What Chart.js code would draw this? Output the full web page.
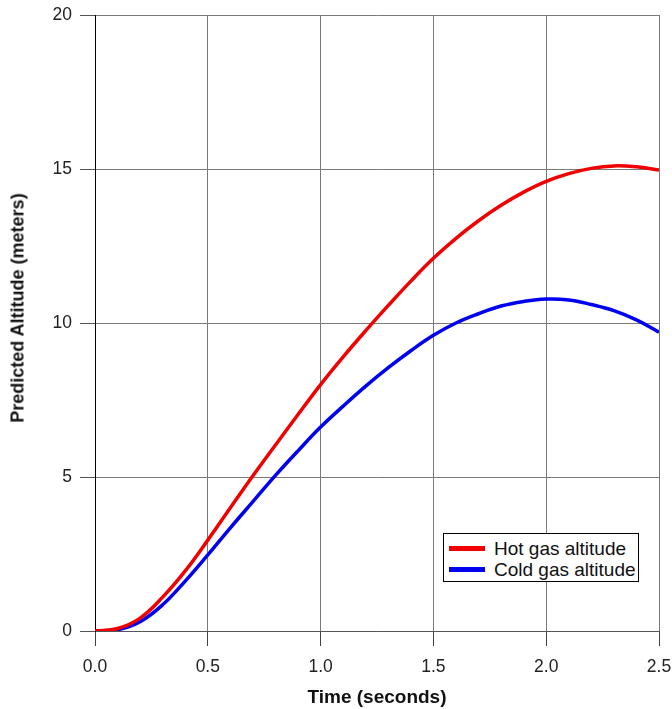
<!DOCTYPE html>
<html><head><meta charset="utf-8">
<script src="https://cdn.jsdelivr.net/npm/chart.js@4.4.1/dist/chart.umd.min.js"></script>
<style>
html,body{margin:0;padding:0;background:#fff;}
#wrap{position:relative;width:672px;height:709px;}
#ytitle{position:absolute;left:18px;top:308px;transform:translate(-50%,-50%) rotate(-90deg);font:bold 18px "Liberation Sans",Arial,sans-serif;color:#111;white-space:nowrap;}
#legend{position:absolute;left:443px;top:533px;width:194px;height:47px;border:1px solid #000;background:#fff;font:19px "Liberation Sans",Arial,sans-serif;color:#111;}
.item{position:absolute;left:5px;height:21px;display:flex;align-items:center;white-space:nowrap;}
.swatch{width:36px;height:5px;margin-right:9px;}
</style>
</head><body>
<div id="wrap">
<canvas id="c" width="672" height="709"></canvas>
<div id="ytitle">Predicted Altitude (meters)</div>
<div id="legend"></div>
</div>
<script>
const times = [0.0,0.1,0.2,0.3,0.4,0.5,0.6,0.7,0.8,0.9,1.0,1.1,1.2,1.3,1.4,1.5,1.6,1.7,1.8,1.9,2.0,2.1,2.2,2.3,2.4,2.5];
const hotAltitude = [0.0,0.08,0.42,1.1,1.95,2.95,4.0,5.04,6.04,7.03,8.0,8.9,9.75,10.57,11.36,12.1,12.75,13.32,13.82,14.25,14.6,14.85,15.02,15.1,15.07,14.97];
const coldAltitude = [0.0,0.04,0.3,0.85,1.62,2.47,3.35,4.2,5.05,5.85,6.62,7.3,7.95,8.55,9.1,9.6,10.0,10.3,10.55,10.7,10.78,10.75,10.6,10.4,10.1,9.7];
const seriesNames = ['Hot gas altitude','Cold gas altitude'];
const seriesColors = ['#f00000','#0000f0'];
const xTickLabels = ['0.0','0.5','1.0','1.5','2.0','2.5'];
const yTickLabels = ['0','5','10','15','20'];

Chart.defaults.font.family = '"Liberation Sans", Arial, sans-serif';

const toPoints = arr => times.map((t,i)=>({x:t,y:arr[i]}));

const chart = new Chart(document.getElementById('c'), {
  type:'line',
  data:{datasets:[
    {label:seriesNames[0], data:toPoints(hotAltitude), borderColor:seriesColors[0], backgroundColor:seriesColors[0]},
    {label:seriesNames[1], data:toPoints(coldAltitude), borderColor:seriesColors[1], backgroundColor:seriesColors[1]}
  ]},
  options:{
    responsive:false, animation:false,
    layout:{padding:{top:15,right:13,left:0,bottom:0}},
    plugins:{legend:{display:false}, tooltip:{enabled:false}},
    elements:{point:{radius:0}, line:{borderWidth:3.5, tension:0.4, fill:false}},
    scales:{
      x:{type:'linear', min:0, max:2.5,
        ticks:{stepSize:0.5, padding:11, color:'#222', font:{size:17.5},
          callback:(v)=>xTickLabels[Math.round(v/0.5)]},
        grid:{color:'#7a7a7a', tickLength:15, tickColor:'#444'},
        border:{color:'#555'},
        title:{display:true, text:'Time (seconds)', color:'#111', font:{size:19, weight:'bold'}, padding:{top:0,bottom:0}},
        afterFit(s){ s.height = 78; s.paddingLeft = 0; s.paddingRight = 0; }
      },
      y:{type:'linear', min:0, max:20,
        ticks:{stepSize:5, padding:8, color:'#222', font:{size:17.5},
          callback:(v)=>yTickLabels[Math.round(v/5)]},
        grid:{color:'#7a7a7a', tickLength:15, tickColor:'#555'},
        border:{color:'#000'},
        afterFit(s){ s.width = 95; s.paddingTop = 0; s.paddingBottom = 0; }
      }
    }
  }
});

const leg = document.getElementById('legend');
chart.data.datasets.forEach((ds,i)=>{
  const it = document.createElement('div');
  it.className='item';
  it.style.top = (4 + i*21) + 'px';
  const sw = document.createElement('span');
  sw.className='swatch';
  sw.style.background = ds.borderColor;
  const tx = document.createElement('span');
  tx.textContent = ds.label;
  it.appendChild(sw); it.appendChild(tx);
  leg.appendChild(it);
});
</script>
</body></html>
